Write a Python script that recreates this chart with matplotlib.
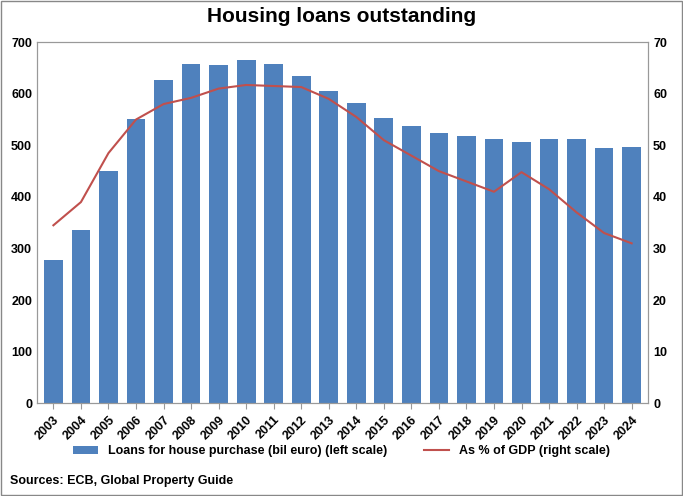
import matplotlib
matplotlib.use("Agg")
import matplotlib.pyplot as plt
from matplotlib.patches import Rectangle

years = [str(y) for y in range(2003, 2025)]
loans = [277, 335, 450, 551, 627, 658, 656, 666, 658, 635, 606, 582, 553, 537, 523, 519, 512, 506, 512, 512, 494, 496]
pct_gdp = [34.5, 39, 48.5, 55, 58, 59.2, 61, 61.7, 61.5, 61.3, 59, 55.5, 51, 48, 45, 43, 41, 44.8, 41.5, 37, 33, 31]

plt.rcParams['font.family'] = ['Liberation Sans', 'DejaVu Sans']
fig = plt.figure(figsize=(6.83, 4.96), dpi=100)
fig.patches.append(Rectangle((0.002, 0.002), 0.996, 0.996, transform=fig.transFigure,
                             fill=False, edgecolor='#888888', lw=1))
ax = fig.add_axes([0.054, 0.187, 0.895, 0.728])
x = range(len(years))
b = ax.bar(x, loans, width=0.68, color='#4F81BD', label='Loans for house purchase (bil euro) (left scale)')
ax.set_ylim(0, 700)
ax.set_yticks(range(0, 701, 100))
ax.set_xlim(-0.6, len(years) - 0.4)
ax.set_xticks(list(x))
ax.set_xticklabels(years, rotation=45, ha='right', rotation_mode='anchor', fontweight='bold', fontsize=9)
ax2 = ax.twinx()
l, = ax2.plot(x, pct_gdp, color='#C0504D', lw=1.5, label='As % of GDP (right scale)')
ax2.set_ylim(0, 70)
ax2.set_yticks(range(0, 71, 10))
for a in (ax, ax2):
    for t in a.get_yticklabels():
        t.set_fontweight('bold'); t.set_fontsize(9)
    a.tick_params(length=0)
    for s in a.spines.values():
        s.set_color('#999999')
ax.tick_params(axis='x', length=4, color='#999999')
fig.suptitle('Housing loans outstanding', y=0.985, fontsize=15, fontweight='bold')
fig.legend(handles=[b, l], loc='lower center', bbox_to_anchor=(0.5, 0.055), ncol=2,
           frameon=False, prop={'weight': 'bold', 'size': 9}, columnspacing=3, handlelength=2)
fig.text(0.015, 0.025, 'Sources: ECB, Global Property Guide', fontsize=9, fontweight='bold')
fig.savefig('out.png', dpi=100)
